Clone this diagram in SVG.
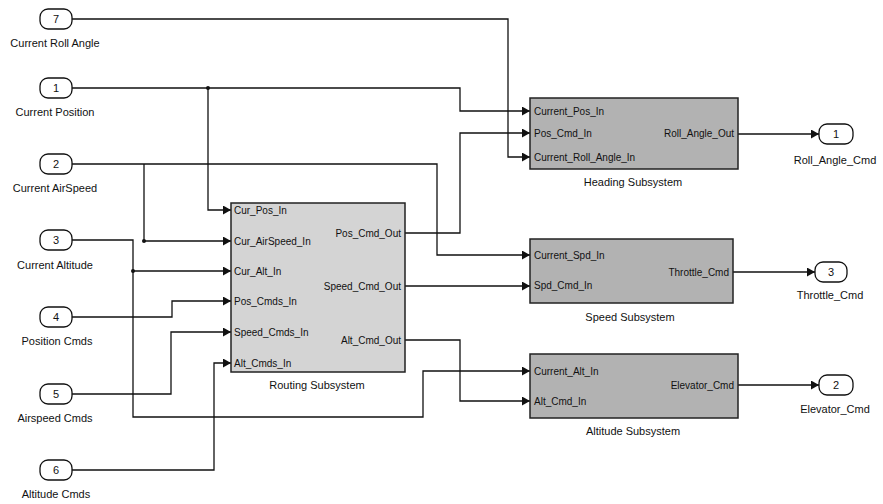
<svg xmlns="http://www.w3.org/2000/svg" width="883" height="504" viewBox="0 0 883 504">
<style>
  text { font-family: "Liberation Sans", Arial, sans-serif; fill: #111; }
  .lbl { font-size: 11px; text-anchor: middle; }
  .num { font-size: 11px; text-anchor: middle; }
  .pin { font-size: 10px; text-anchor: start; }
  .pout { font-size: 10px; text-anchor: end; }
  .port { fill: #fff; stroke: #111; stroke-width: 1.3; }
  .blk { stroke: #222; stroke-width: 1.5; }
  .wire { fill: none; stroke: #111; stroke-width: 1.3; }
  .arr { marker-end: url(#ah); }
</style>
<defs>
  <marker id="ah" markerUnits="userSpaceOnUse" markerWidth="9" markerHeight="10" refX="8" refY="4.5" orient="auto">
    <path d="M0,0 L8,4.5 L0,9 z" fill="#111"/>
  </marker>
</defs>
<rect width="883" height="504" fill="#fff"/>

<g id="connectors">
  <path class="wire arr" d="M72,19 H508 V157 H530"/>
  <path class="wire arr" d="M72,88 H460 V111 H530"/>
  <path class="wire arr" d="M208,88 V210 H231"/>
  <path class="wire arr" d="M72,164 H437 V255 H530"/>
  <path class="wire arr" d="M144,164 V241 H231"/>
  <path class="wire arr" d="M72,240 H133 V417 H423 V371 H530"/>
  <path class="wire arr" d="M133,271 H231"/>
  <path class="wire arr" d="M72,317 H172 V301 H231"/>
  <path class="wire arr" d="M72,394 H171 V332 H231"/>
  <path class="wire arr" d="M72,470 H214 V363 H231"/>
  <path class="wire arr" d="M405,233 H460 V133 H530"/>
  <path class="wire arr" d="M405,286 H530"/>
  <path class="wire arr" d="M405,340 H460 V401 H530"/>
  <path class="wire arr" d="M738,134 H819"/>
  <path class="wire arr" d="M733,272 H815"/>
  <path class="wire arr" d="M738,385 H819"/>
  <circle cx="208" cy="88" r="2" fill="#111"/>
  <circle cx="144" cy="241" r="2" fill="#111"/>
  <circle cx="133" cy="271" r="2" fill="#111"/>
</g>

<g id="in7"><rect class="port" x="40" y="9" width="32" height="20" rx="8"/><text class="num" x="56" y="23">7</text><text class="lbl" x="55" y="47">Current Roll Angle</text></g>
<g id="in1"><rect class="port" x="40" y="78" width="32" height="20" rx="8"/><text class="num" x="56" y="92">1</text><text class="lbl" x="55" y="116">Current Position</text></g>
<g id="in2"><rect class="port" x="40" y="154" width="32" height="20" rx="8"/><text class="num" x="56" y="168">2</text><text class="lbl" x="55" y="192">Current AirSpeed</text></g>
<g id="in3"><rect class="port" x="40" y="230" width="32" height="20" rx="8"/><text class="num" x="56" y="244">3</text><text class="lbl" x="55" y="269">Current Altitude</text></g>
<g id="in4"><rect class="port" x="40" y="307" width="32" height="20" rx="8"/><text class="num" x="56" y="321">4</text><text class="lbl" x="57" y="345">Position Cmds</text></g>
<g id="in5"><rect class="port" x="40" y="384" width="32" height="20" rx="8"/><text class="num" x="56" y="398">5</text><text class="lbl" x="55" y="422">Airspeed Cmds</text></g>
<g id="in6"><rect class="port" x="40" y="460" width="32" height="20" rx="8"/><text class="num" x="56" y="474">6</text><text class="lbl" x="56" y="498">Altitude Cmds</text></g>

<g id="routing">
  <rect class="blk" x="231" y="203" width="174" height="169" fill="#d4d4d4"/>
  <text class="pin" x="234" y="214">Cur_Pos_In</text>
  <text class="pin" x="234" y="245">Cur_AirSpeed_In</text>
  <text class="pin" x="234" y="275">Cur_Alt_In</text>
  <text class="pin" x="234" y="305">Pos_Cmds_In</text>
  <text class="pin" x="234" y="336">Speed_Cmds_In</text>
  <text class="pin" x="234" y="367">Alt_Cmds_In</text>
  <text class="pout" x="401" y="237">Pos_Cmd_Out</text>
  <text class="pout" x="401" y="290">Speed_Cmd_Out</text>
  <text class="pout" x="401" y="344">Alt_Cmd_Out</text>
  <text class="lbl" x="317" y="389">Routing Subsystem</text>
</g>

<g id="heading">
  <rect class="blk" x="530" y="98" width="208" height="71" fill="#b2b2b2"/>
  <text class="pin" x="534" y="115">Current_Pos_In</text>
  <text class="pin" x="534" y="137">Pos_Cmd_In</text>
  <text class="pin" x="534" y="161">Current_Roll_Angle_In</text>
  <text class="pout" x="734" y="137">Roll_Angle_Out</text>
  <text class="lbl" x="633" y="186">Heading Subsystem</text>
</g>

<g id="speed">
  <rect class="blk" x="530" y="239" width="203" height="64" fill="#b2b2b2"/>
  <text class="pin" x="534" y="259">Current_Spd_In</text>
  <text class="pin" x="534" y="289">Spd_Cmd_In</text>
  <text class="pout" x="729" y="276">Throttle_Cmd</text>
  <text class="lbl" x="630" y="321">Speed Subsystem</text>
</g>

<g id="altitude">
  <rect class="blk" x="530" y="354" width="208" height="64" fill="#b2b2b2"/>
  <text class="pin" x="534" y="375">Current_Alt_In</text>
  <text class="pin" x="534" y="405">Alt_Cmd_In</text>
  <text class="pout" x="734" y="389">Elevator_Cmd</text>
  <text class="lbl" x="633" y="435">Altitude Subsystem</text>
</g>

<g id="out1"><rect class="port" x="819" y="124" width="34" height="20" rx="8"/><text class="num" x="836" y="138">1</text><text class="lbl" x="835" y="164">Roll_Angle_Cmd</text></g>
<g id="out3"><rect class="port" x="815" y="262" width="32" height="20" rx="8"/><text class="num" x="831" y="276">3</text><text class="lbl" x="830" y="299">Throttle_Cmd</text></g>
<g id="out2"><rect class="port" x="819" y="375" width="34" height="20" rx="8"/><text class="num" x="836" y="389">2</text><text class="lbl" x="835" y="413">Elevator_Cmd</text></g>
</svg>
